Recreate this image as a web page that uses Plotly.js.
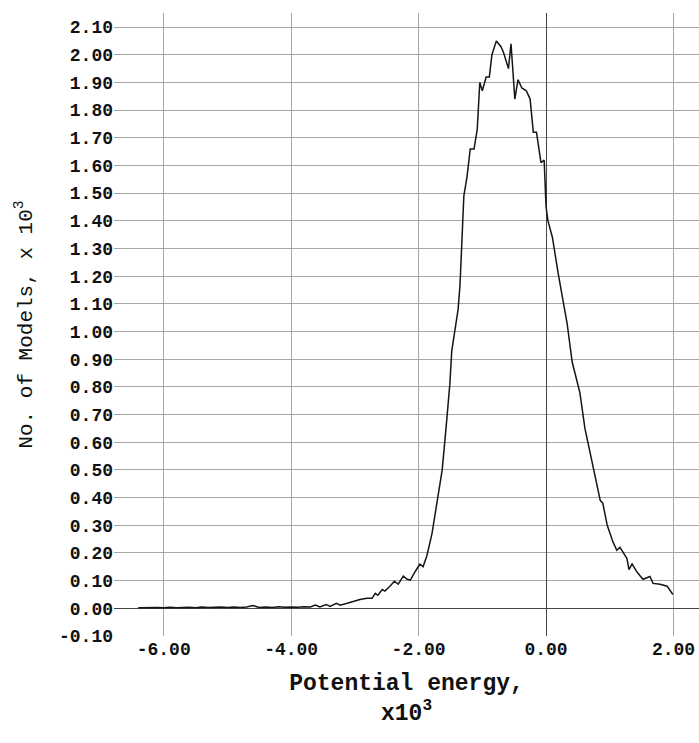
<!DOCTYPE html>
<html>
<head>
<meta charset="utf-8">
<script src="https://cdn.plot.ly/plotly-3.0.1.min.js"></script>
<style>html,body{margin:0;padding:0;background:#fff;}#chart{width:699px;height:743px;}</style>
</head>
<body>
<div id="chart"></div>
<script>
// Potential energy (x10^3)
const energy = [
  -6.40,-6.30,-6.20,-6.10,-6.00,-5.90,-5.80,-5.70,-5.60,-5.50,-5.40,-5.30,-5.20,-5.10,-5.00,
  -4.90,-4.80,-4.70,-4.60,-4.50,-4.40,-4.30,-4.20,-4.10,-4.00,-3.90,-3.80,-3.70,-3.62,-3.55,
  -3.45,-3.39,-3.29,-3.23,-3.12,-3.03,-2.92,-2.81,-2.73,-2.68,-2.64,-2.57,-2.53,-2.45,-2.38,
  -2.32,-2.24,-2.18,-2.13,-2.05,-1.98,-1.93,-1.87,-1.79,-1.71,-1.63,-1.57,-1.51,-1.48,-1.43,
  -1.38,-1.35,-1.32,-1.29,-1.24,-1.19,-1.13,-1.08,-1.04,-1.00,-0.94,-0.89,-0.85,-0.78,-0.71,
  -0.67,-0.59,-0.55,-0.49,-0.44,-0.38,-0.31,-0.25,-0.20,-0.15,-0.08,-0.03,0.00,0.03,0.10,
  0.19,0.27,0.33,0.41,0.49,0.53,0.61,0.69,0.77,0.85,0.89,0.96,1.05,1.11,1.16,
  1.27,1.30,1.35,1.43,1.52,1.63,1.68,1.79,1.90,1.99
];
// No. of models (x10^3)
const models = [
  0.002,0.003,0.002,0.003,0.002,0.004,0.002,0.003,0.004,0.002,0.005,0.003,0.004,0.005,0.003,
  0.005,0.003,0.005,0.010,0.003,0.005,0.003,0.006,0.004,0.005,0.004,0.006,0.005,0.012,0.005,
  0.014,0.007,0.018,0.011,0.018,0.025,0.032,0.036,0.036,0.054,0.047,0.068,0.062,0.080,0.098,
  0.087,0.116,0.105,0.102,0.134,0.160,0.150,0.190,0.270,0.390,0.500,0.650,0.810,0.930,1.000,
  1.080,1.170,1.350,1.490,1.560,1.660,1.660,1.730,1.900,1.870,1.920,1.920,2.000,2.050,2.030,
  2.010,1.950,2.040,1.840,1.910,1.880,1.870,1.840,1.720,1.720,1.610,1.620,1.450,1.400,1.340,
  1.210,1.110,1.030,0.890,0.810,0.780,0.650,0.560,0.470,0.390,0.380,0.300,0.240,0.210,0.220,
  0.180,0.140,0.160,0.130,0.105,0.115,0.090,0.087,0.080,0.050
];
const xTickVals = [-6, -4, -2, 0, 2];
const xTickText = xTickVals.map(v => v.toFixed(2));
const yTickVals = [-0.1,0,0.1,0.2,0.3,0.4,0.5,0.6,0.7,0.8,0.9,1.0,1.1,1.2,1.3,1.4,1.5,1.6,1.7,1.8,1.9,2.0,2.1];
const yTickText = yTickVals.map(v => v.toFixed(2));

const mono = 'Liberation Mono, Courier New, monospace';
const trace = {
  x: energy, y: models, type: 'scatter', mode: 'lines',
  line: {color: '#151515', width: 1.5}, hoverinfo: 'skip'
};
const layout = {
  width: 699, height: 743,
  margin: {l: 114, r: 0, t: 13, b: 107},
  paper_bgcolor: '#ffffff', plot_bgcolor: '#ffffff',
  showlegend: false,
  xaxis: {
    range: [-6.78, 2.40],
    tickmode: 'array', tickvals: xTickVals, ticktext: xTickText,
    showgrid: true, gridcolor: '#a6a6a6', gridwidth: 1,
    zeroline: true, zerolinecolor: '#444444', zerolinewidth: 1,
    showline: false, ticks: '',
    tickfont: {family: mono, size: 18, color: '#111', weight: 'bold'},
    title: {text: 'Potential energy,<br>x10<sup>3</sup>', standoff: 14,
            font: {family: mono, size: 23, color: '#111', weight: 'bold'}}
  },
  yaxis: {
    range: [-0.1, 2.151],
    tickmode: 'array', tickvals: yTickVals, ticktext: yTickText,
    showgrid: true, gridcolor: '#a6a6a6', gridwidth: 1,
    zeroline: true, zerolinecolor: '#444444', zerolinewidth: 1,
    showline: false, ticks: '',
    tickfont: {family: mono, size: 18, color: '#111', weight: 'bold'},
    title: {text: 'No. of Models, x 10<sup>3</sup>', standoff: 20,
            font: {family: mono, size: 21, color: '#111'}}
  }
};
Plotly.newPlot('chart', [trace], layout, {staticPlot: true, displayModeBar: false});
</script>
</body>
</html>
